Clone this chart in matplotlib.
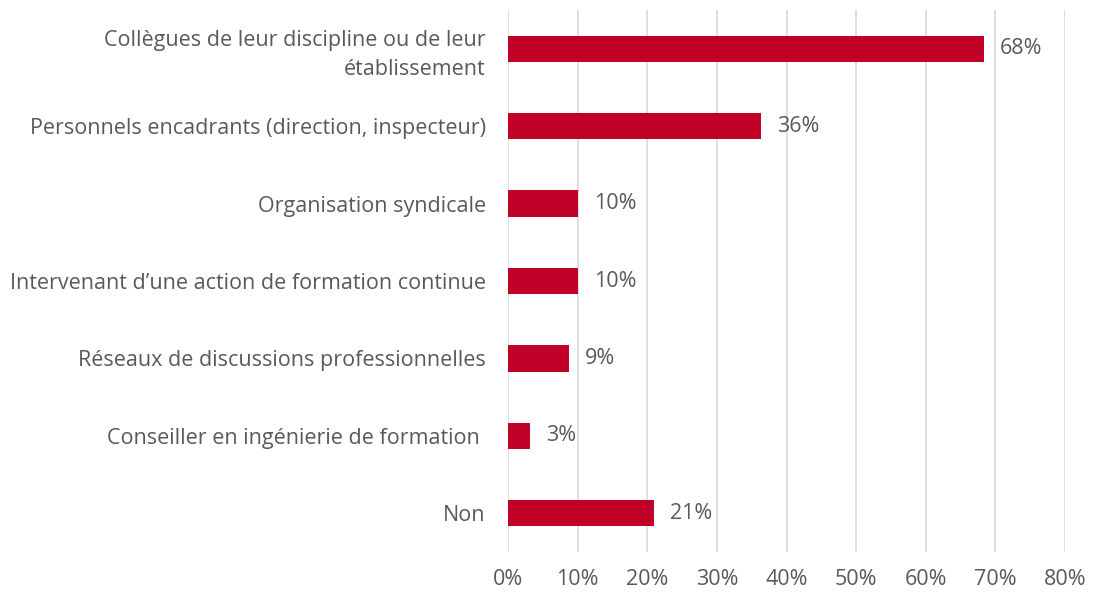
import matplotlib
matplotlib.use("Agg")
from matplotlib import pyplot as plt
from matplotlib.ticker import PercentFormatter

# categories top -> bottom
categories = ["Collègues de leur discipline ou de leur\nétablissement",
              "Personnels encadrants (direction, inspecteur)",
              "Organisation syndicale",
              "Intervenant d\u2019une action de formation continue",
              "Réseaux de discussions professionnelles",
              "Conseiller en ingénierie de formation ",
              "Non"]
values = [68.3, 36.4, 10.0, 10.0, 8.7, 3.1, 20.9]
labels = ["68%", "36%", "10%", "10%", "9%", "3%", "21%"]
xticks = [0, 10, 20, 30, 40, 50, 60, 70, 80]

red = "#C00027"
txt = "#595959"
plt.rcParams['font.family'] = ['Open Sans', 'DejaVu Sans']
fs = 15.5

fig = plt.figure(figsize=(10.94, 5.92), dpi=100)
ax = fig.add_axes([508/1094, 40/592, 557/1094, 542/592])

ypos = list(range(len(categories)))
ax.barh(ypos, values, height=0.34, color=red, zorder=3)
for y, v, l in zip(ypos, values, labels):
    ax.text(v + 2.3, y, l, va="center", ha="left", fontsize=fs, color=txt)

ax.set_ylim(len(categories) - 0.5, -0.5)
ax.set_xlim(0, 80)
ax.set_yticks(ypos)
ax.set_yticklabels(categories, fontsize=fs, color=txt, linespacing=1.5)
ax.set_xticks(xticks)
ax.xaxis.set_major_formatter(PercentFormatter(decimals=0))
ax.tick_params(axis="x", labelsize=fs, labelcolor=txt, length=0, pad=12)
ax.tick_params(axis="y", length=0, pad=16)
ax.grid(axis="x", color="#D9D9D9", linewidth=1.2, zorder=0)
for s in ax.spines.values():
    s.set_visible(False)

fig.savefig("out.png", dpi=100)
